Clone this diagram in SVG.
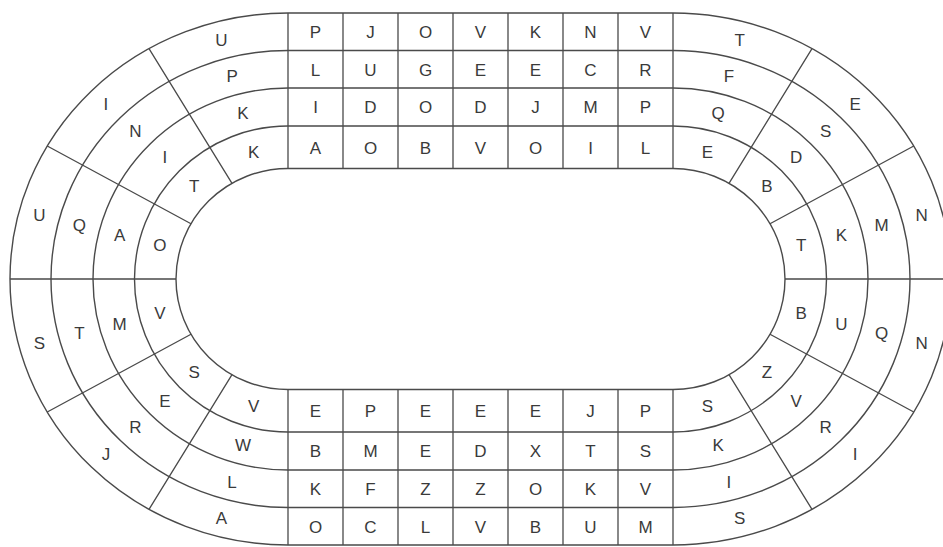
<svg xmlns="http://www.w3.org/2000/svg" width="943" height="547" viewBox="0 0 943 547">
<style>
.ring{fill:none;stroke:#4a4a4a;stroke-width:1.4}
.div{stroke:#4a4a4a;stroke-width:1.3;fill:none}
.grid{stroke:#4a4a4a;stroke-width:1.3;fill:none}
text{font-family:"Liberation Sans",Arial,sans-serif;font-size:17px;fill:#3a3a3a;text-anchor:middle}
</style>
<rect width="943" height="547" fill="#fff"/>
<g id="rings">
<path class="ring" d="M288,168.5 H673 A112,110.5 0 0 1 673,389.5 H288 A112,110.5 0 0 1 288,168.5 Z"/>
<path class="ring" d="M288,126 H673 A153.5,153 0 0 1 673,432 H288 A153.5,153 0 0 1 288,126 Z"/>
<path class="ring" d="M288,88 H673 A195,191 0 0 1 673,470 H288 A195,191 0 0 1 288,88 Z"/>
<path class="ring" d="M288,50.5 H673 A237,228.5 0 0 1 673,507.5 H288 A237,228.5 0 0 1 288,50.5 Z"/>
<path class="ring" d="M288,13 H673 A278,266 0 0 1 673,545 H288 A278,266 0 0 1 288,13 Z"/>
</g>
<g id="connectors">
<path class="grid" d="M288,13V168.5M343,13V168.5M398,13V168.5M453,13V168.5M508,13V168.5M563,13V168.5M618,13V168.5M673,13V168.5"/>
<path class="grid" d="M288,389.5V545M343,389.5V545M398,389.5V545M453,389.5V545M508,389.5V545M563,389.5V545M618,389.5V545M673,389.5V545"/>
<path class="div" d="M232,183.3L149,48.6M191,223.75L47.25,146M176,279L10,279M191,334.25L47.25,412M232,374.7L149,509.4"/>
<path class="div" d="M729,183.3L812,48.6M770,223.75L913.75,146M785,279L951,279M770,334.25L913.75,412M729,374.7L812,509.4"/>
</g>
<g id="top-grid">
<text x="315.5" y="38">P</text><text x="370.5" y="38">J</text><text x="425.5" y="38">O</text><text x="480.5" y="38">V</text><text x="535.5" y="38">K</text><text x="590.5" y="38">N</text><text x="645.5" y="38">V</text>
<text x="315.5" y="75.5">L</text><text x="370.5" y="75.5">U</text><text x="425.5" y="75.5">G</text><text x="480.5" y="75.5">E</text><text x="535.5" y="75.5">E</text><text x="590.5" y="75.5">C</text><text x="645.5" y="75.5">R</text>
<text x="315.5" y="113">I</text><text x="370.5" y="113">D</text><text x="425.5" y="113">O</text><text x="480.5" y="113">D</text><text x="535.5" y="113">J</text><text x="590.5" y="113">M</text><text x="645.5" y="113">P</text>
<text x="315.5" y="153.5">A</text><text x="370.5" y="153.5">O</text><text x="425.5" y="153.5">B</text><text x="480.5" y="153.5">V</text><text x="535.5" y="153.5">O</text><text x="590.5" y="153.5">I</text><text x="645.5" y="153.5">L</text>
</g>
<g id="bottom-grid">
<text x="315.5" y="417">E</text><text x="370.5" y="417">P</text><text x="425.5" y="417">E</text><text x="480.5" y="417">E</text><text x="535.5" y="417">E</text><text x="590.5" y="417">J</text><text x="645.5" y="417">P</text>
<text x="315.5" y="457">B</text><text x="370.5" y="457">M</text><text x="425.5" y="457">E</text><text x="480.5" y="457">D</text><text x="535.5" y="457">X</text><text x="590.5" y="457">T</text><text x="645.5" y="457">S</text>
<text x="315.5" y="495">K</text><text x="370.5" y="495">F</text><text x="425.5" y="495">Z</text><text x="480.5" y="495">Z</text><text x="535.5" y="495">O</text><text x="590.5" y="495">K</text><text x="645.5" y="495">V</text>
<text x="315.5" y="532.5">O</text><text x="370.5" y="532.5">C</text><text x="425.5" y="532.5">L</text><text x="480.5" y="532.5">V</text><text x="535.5" y="532.5">B</text><text x="590.5" y="532.5">U</text><text x="645.5" y="532.5">M</text>
</g>
<g id="left-end">
<text x="221.4" y="46.2">U</text><text x="232.1" y="82.4">P</text><text x="242.9" y="118.9">K</text><text x="253.6" y="157.7">K</text>
<text x="105.9" y="110.2">I</text><text x="135.3" y="136.7">N</text><text x="164.8" y="163.4">I</text><text x="194.1" y="191.8">T</text>
<text x="39.3" y="221">U</text><text x="79.4" y="230.7">Q</text><text x="119.7" y="240.5">A</text><text x="159.8" y="250.9">O</text>
<text x="39.3" y="349">S</text><text x="79.4" y="339.3">T</text><text x="119.7" y="329.5">M</text><text x="159.8" y="319.1">V</text>
<text x="105.9" y="459.8">J</text><text x="135.3" y="433.3">R</text><text x="164.8" y="406.6">E</text><text x="194.1" y="378.2">S</text>
<text x="221.4" y="523.8">A</text><text x="232.1" y="487.6">L</text><text x="242.9" y="451.1">W</text><text x="253.6" y="412.3">V</text>
</g>
<g id="right-end">
<text x="739.6" y="46.2">T</text><text x="728.9" y="82.4">F</text><text x="718.1" y="118.9">Q</text><text x="707.4" y="157.7">E</text>
<text x="855.1" y="110.2">E</text><text x="825.7" y="136.7">S</text><text x="796.2" y="163.4">D</text><text x="766.9" y="191.8">B</text>
<text x="921.7" y="221">N</text><text x="881.6" y="230.7">M</text><text x="841.3" y="240.5">K</text><text x="801.2" y="250.9">T</text>
<text x="921.7" y="349">N</text><text x="881.6" y="339.3">Q</text><text x="841.3" y="329.5">U</text><text x="801.2" y="319.1">B</text>
<text x="855.1" y="459.8">I</text><text x="825.7" y="433.3">R</text><text x="796.2" y="406.6">V</text><text x="766.9" y="378.2">Z</text>
<text x="739.6" y="523.8">S</text><text x="728.9" y="487.6">I</text><text x="718.1" y="451.1">K</text><text x="707.4" y="412.3">S</text>
</g>
</svg>
